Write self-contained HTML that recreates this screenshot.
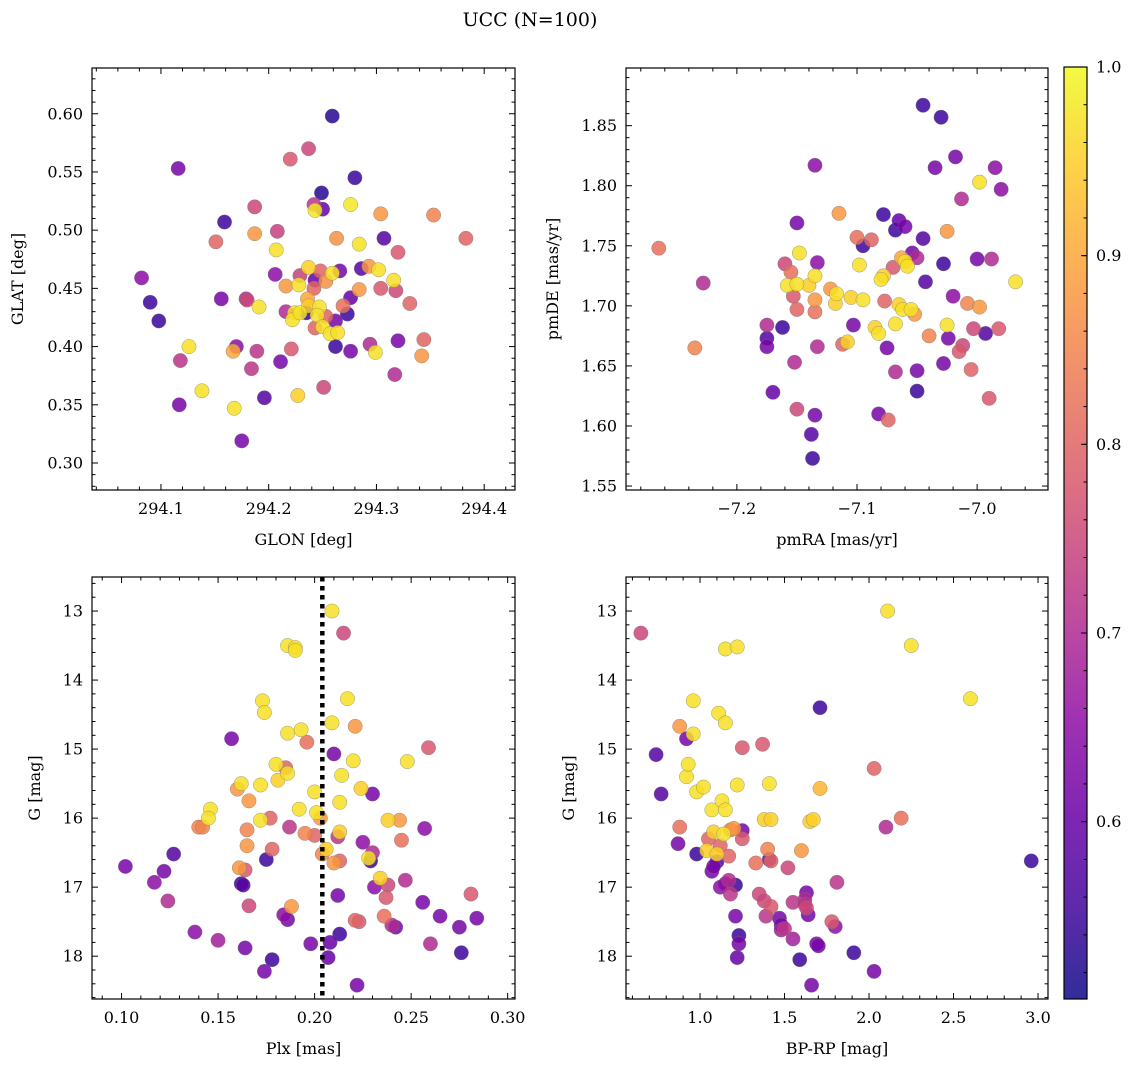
<!DOCTYPE html>
<html><head><meta charset="utf-8"><style>
body{margin:0;background:#fff;}
svg{display:block;font-family:"DejaVu Serif","Liberation Serif",serif;}
</style></head><body>
<svg id="fig" width="1136" height="1067" viewBox="0 0 1136 1067" xmlns="http://www.w3.org/2000/svg">
<text x="530" y="26" text-anchor="middle" font-size="19">UCC (N=100)</text>
</svg>
<script>
// ---- data (each panel: x values, y values, membership probability) ----
const p1x=[294.259,294.116,294.237,294.220,294.280,294.249,294.276,294.242,294.250,294.243,294.187,294.159,294.208,294.187,294.151,294.304,294.353,294.383,294.307,294.263,294.284,294.207,294.320,294.082,294.090,294.098,294.156,294.179,294.180,294.206,294.191,294.216,294.228,294.229,294.237,294.248,294.253,294.259,294.266,294.286,294.293,294.302,294.316,294.304,294.284,294.276,294.243,294.242,294.236,294.224,294.222,294.229,294.237,294.247,294.235,294.245,294.253,294.243,294.250,294.257,294.264,294.262,294.273,294.269,294.216,294.262,294.276,294.294,294.299,294.320,294.344,294.342,294.331,294.318,294.317,294.221,294.211,294.189,294.184,294.170,294.167,294.126,294.118,294.138,294.117,294.168,294.196,294.227,294.251,294.175];
const p1y=[0.598,0.553,0.570,0.561,0.545,0.532,0.522,0.522,0.518,0.517,0.520,0.507,0.499,0.497,0.490,0.514,0.513,0.493,0.493,0.493,0.488,0.483,0.481,0.459,0.438,0.422,0.441,0.441,0.440,0.462,0.434,0.452,0.453,0.461,0.468,0.465,0.456,0.463,0.465,0.467,0.469,0.466,0.457,0.450,0.449,0.442,0.457,0.450,0.441,0.429,0.423,0.429,0.435,0.434,0.429,0.427,0.426,0.416,0.417,0.411,0.412,0.422,0.428,0.435,0.430,0.400,0.396,0.402,0.395,0.405,0.406,0.392,0.437,0.448,0.376,0.398,0.387,0.396,0.381,0.400,0.396,0.400,0.388,0.362,0.350,0.347,0.356,0.358,0.365,0.319];
const p1c=[0.53,0.62,0.75,0.78,0.55,0.53,0.98,0.72,0.60,0.98,0.75,0.55,0.74,0.88,0.80,0.88,0.85,0.80,0.58,0.87,0.97,0.97,0.78,0.65,0.55,0.55,0.62,0.70,0.75,0.65,0.97,0.88,0.97,0.74,0.95,0.80,0.87,0.97,0.62,0.58,0.88,0.97,0.97,0.78,0.88,0.60,0.60,0.80,0.90,0.97,0.97,0.97,0.95,0.97,0.55,0.97,0.80,0.80,0.97,0.97,0.97,0.62,0.55,0.82,0.70,0.55,0.62,0.70,0.97,0.62,0.80,0.88,0.80,0.75,0.70,0.78,0.62,0.72,0.72,0.65,0.90,0.97,0.72,0.97,0.62,0.97,0.58,0.95,0.75,0.62];

const p2x=[-7.265,-7.228,-7.235,-7.175,-7.175,-7.175,-7.170,-7.162,-7.160,-7.158,-7.155,-7.150,-7.153,-7.150,-7.150,-7.148,-7.152,-7.150,-7.140,-7.135,-7.135,-7.133,-7.135,-7.138,-7.137,-7.135,-7.135,-7.133,-7.122,-7.118,-7.115,-7.117,-7.112,-7.108,-7.105,-7.103,-7.100,-7.098,-7.095,-7.095,-7.088,-7.082,-7.085,-7.082,-7.078,-7.080,-7.078,-7.075,-7.077,-7.074,-7.070,-7.068,-7.068,-7.068,-7.065,-7.065,-7.063,-7.062,-7.060,-7.060,-7.058,-7.055,-7.054,-7.052,-7.050,-7.050,-7.050,-7.045,-7.045,-7.043,-7.040,-7.035,-7.030,-7.028,-7.028,-7.025,-7.025,-7.024,-7.020,-7.018,-7.015,-7.012,-7.013,-7.008,-7.005,-7.003,-7.000,-6.998,-6.998,-6.993,-6.990,-6.988,-6.985,-6.982,-6.980,-6.968];
const p2y=[1.748,1.719,1.665,1.684,1.673,1.666,1.628,1.682,1.735,1.717,1.728,1.718,1.708,1.697,1.769,1.744,1.653,1.614,1.717,1.725,1.705,1.736,1.695,1.593,1.573,1.609,1.817,1.666,1.714,1.702,1.777,1.710,1.668,1.670,1.707,1.684,1.757,1.734,1.705,1.750,1.755,1.677,1.682,1.610,1.776,1.722,1.725,1.665,1.704,1.605,1.732,1.685,1.645,1.763,1.701,1.771,1.740,1.697,1.737,1.766,1.733,1.697,1.744,1.693,1.629,1.740,1.646,1.867,1.756,1.720,1.675,1.815,1.857,1.735,1.652,1.762,1.684,1.673,1.708,1.824,1.662,1.667,1.789,1.702,1.647,1.681,1.739,1.803,1.699,1.677,1.623,1.739,1.815,1.681,1.797,1.720];
const p2c=[0.82,0.70,0.85,0.70,0.58,0.62,0.60,0.55,0.75,0.97,0.82,0.97,0.78,0.80,0.62,0.97,0.70,0.75,0.95,0.97,0.88,0.65,0.82,0.58,0.55,0.62,0.65,0.70,0.88,0.95,0.88,0.97,0.80,0.95,0.95,0.62,0.82,0.97,0.97,0.55,0.80,0.97,0.95,0.62,0.55,0.97,0.95,0.62,0.80,0.80,0.78,0.97,0.70,0.55,0.95,0.60,0.90,0.97,0.97,0.62,0.97,0.97,0.62,0.88,0.55,0.70,0.62,0.55,0.58,0.58,0.85,0.62,0.55,0.55,0.62,0.88,0.97,0.62,0.65,0.62,0.78,0.75,0.70,0.85,0.80,0.75,0.62,0.97,0.88,0.58,0.78,0.70,0.65,0.78,0.65,0.97];

const p3x=[0.102,0.117,0.122,0.124,0.127,0.138,0.140,0.142,0.146,0.145,0.150,0.157,0.160,0.162,0.163,0.162,0.164,0.164,0.165,0.165,0.166,0.166,0.161,0.172,0.172,0.173,0.174,0.175,0.174,0.177,0.178,0.180,0.178,0.181,0.184,0.185,0.186,0.186,0.186,0.186,0.187,0.188,0.190,0.190,0.192,0.193,0.195,0.196,0.198,0.200,0.200,0.201,0.203,0.204,0.206,0.207,0.208,0.209,0.209,0.210,0.210,0.212,0.212,0.213,0.213,0.213,0.214,0.213,0.215,0.217,0.220,0.221,0.221,0.222,0.223,0.224,0.225,0.228,0.229,0.230,0.230,0.231,0.234,0.236,0.237,0.238,0.238,0.240,0.242,0.244,0.245,0.247,0.248,0.256,0.257,0.259,0.260,0.265,0.275,0.276,0.281,0.284];
const p3y=[16.70,16.93,16.77,17.20,16.52,17.65,16.13,16.13,15.87,16.00,17.77,14.85,15.58,15.50,16.97,16.95,16.75,17.88,16.40,16.17,15.75,17.27,16.72,15.52,16.03,14.30,14.47,16.60,18.22,16.00,16.45,15.22,18.05,15.45,17.40,15.27,17.47,13.50,14.77,15.35,16.13,17.28,13.53,13.57,15.87,14.72,16.22,14.90,17.82,15.62,16.25,15.92,16.00,16.52,16.45,18.02,17.80,13.00,14.62,15.07,16.65,16.27,17.12,16.20,16.62,17.68,15.38,15.77,13.32,14.27,15.17,17.48,14.67,18.42,17.50,15.57,16.35,16.58,16.62,16.50,15.65,17.00,16.87,17.42,17.15,16.97,16.03,17.55,17.58,16.03,16.32,16.90,15.18,17.22,16.15,14.98,17.82,17.42,17.58,17.95,17.10,17.45];
const p3c=[0.62,0.65,0.62,0.70,0.58,0.65,0.85,0.85,0.97,0.97,0.68,0.62,0.88,0.97,0.58,0.55,0.78,0.62,0.88,0.85,0.88,0.75,0.88,0.97,0.97,0.97,0.97,0.55,0.62,0.80,0.80,0.97,0.55,0.95,0.65,0.80,0.62,0.97,0.97,0.97,0.72,0.88,0.97,0.97,0.97,0.97,0.85,0.82,0.62,0.97,0.80,0.97,0.88,0.85,0.95,0.60,0.60,0.97,0.97,0.62,0.88,0.72,0.62,0.95,0.80,0.55,0.97,0.97,0.75,0.97,0.97,0.80,0.88,0.62,0.78,0.95,0.65,0.97,0.55,0.70,0.62,0.65,0.95,0.82,0.78,0.75,0.95,0.70,0.62,0.88,0.82,0.70,0.97,0.62,0.65,0.78,0.70,0.62,0.62,0.55,0.78,0.62];

const p4x=[0.65,0.74,0.77,0.87,0.88,0.88,0.92,0.92,0.93,0.96,0.96,0.98,0.98,1.02,1.04,1.05,1.07,1.07,1.08,1.08,1.10,1.10,1.11,1.12,1.12,1.13,1.14,1.15,1.15,1.15,1.15,1.17,1.17,1.18,1.18,1.20,1.21,1.21,1.22,1.22,1.22,1.23,1.23,1.25,1.25,1.25,1.33,1.35,1.37,1.38,1.38,1.39,1.40,1.41,1.41,1.42,1.42,1.42,1.47,1.48,1.48,1.50,1.52,1.55,1.55,1.59,1.60,1.62,1.62,1.63,1.63,1.64,1.65,1.66,1.67,1.69,1.70,1.71,1.71,1.78,1.80,1.81,1.91,2.03,2.03,2.10,2.11,2.19,2.25,2.60,2.96];
const p4y=[13.32,15.08,15.65,16.37,14.67,16.13,15.40,14.85,15.22,14.78,14.30,15.62,16.52,15.55,16.47,16.30,15.88,16.77,16.70,16.20,16.52,16.63,14.48,17.00,16.40,15.75,16.23,14.62,13.55,15.88,16.95,16.55,16.90,16.17,17.10,16.15,16.97,17.42,13.52,15.52,18.02,17.82,17.70,14.98,16.18,16.30,16.65,17.10,14.93,16.02,17.20,17.42,16.45,15.50,16.60,16.62,17.28,16.02,17.45,17.55,17.62,17.60,16.72,17.75,17.22,18.05,16.47,17.25,17.18,17.08,17.30,17.40,16.05,18.42,16.02,17.82,17.85,14.40,15.57,17.50,17.57,16.93,17.95,18.22,15.28,16.13,13.00,16.00,13.50,14.27,16.62];
const p4c=[0.75,0.58,0.58,0.62,0.88,0.82,0.97,0.62,0.97,0.97,0.97,0.97,0.55,0.97,0.95,0.80,0.97,0.62,0.62,0.95,0.95,0.58,0.97,0.65,0.80,0.97,0.97,0.97,0.97,0.97,0.62,0.80,0.70,0.85,0.72,0.88,0.55,0.62,0.97,0.97,0.60,0.62,0.55,0.78,0.62,0.78,0.82,0.75,0.78,0.95,0.75,0.72,0.85,0.97,0.60,0.80,0.78,0.95,0.62,0.62,0.68,0.72,0.75,0.68,0.72,0.55,0.88,0.72,0.70,0.62,0.75,0.62,0.95,0.62,0.95,0.62,0.62,0.55,0.92,0.78,0.65,0.72,0.55,0.62,0.80,0.70,0.97,0.82,0.97,0.97,0.55];

const cbTicks=[0.6,0.7,0.8,0.9,1.0];
const plxLine=0.204;

// ---- rendering ----
const NS="http://www.w3.org/2000/svg";
const svg=document.getElementById('fig');
const VMIN=0.506,VMAX=1.0;
const stops=[[0,[13,8,135]],[0.1,[65,4,157]],[0.2,[106,0,168]],[0.3,[143,13,164]],[0.4,[177,42,144]],[0.5,[204,71,120]],[0.6,[225,100,98]],[0.7,[242,132,75]],[0.8,[252,166,54]],[0.9,[252,206,37]],[1,[240,249,33]]];
function plasma(v){let t=Math.max(0,Math.min(1,(v-VMIN)/(VMAX-VMIN)));
 for(let i=1;i<stops.length;i++){if(t<=stops[i][0]){const a=stops[i-1],b=stops[i];const f=(t-a[0])/(b[0]-a[0]);
 const c=a[1].map((x,k)=>Math.round(x+(b[1][k]-x)*f));return `rgb(${c[0]},${c[1]},${c[2]})`;}}return 'rgb(240,249,33)';}
function el(tag,attrs,parent){const e=document.createElementNS(NS,tag);for(const k in attrs)e.setAttribute(k,attrs[k]);(parent||svg).appendChild(e);return e;}
function fmt(v,d){return v.toFixed(d).replace('-','\u2212');}

function panel(cfg){
 const g=el('g',{});
 
 
 const {L,R,T,B}=cfg;
 const sx=v=>L+(v-cfg.xmin)/(cfg.xmax-cfg.xmin)*(R-L);
 const sy=cfg.inv? v=>T+(v-cfg.ymin)/(cfg.ymax-cfg.ymin)*(B-T) : v=>B-(v-cfg.ymin)/(cfg.ymax-cfg.ymin)*(B-T);
 const clip='clip-'+cfg.name;
 const cp=el('clipPath',{id:clip},g);el('rect',{x:L,y:T,width:R-L,height:B-T},cp);
 const pts=el('g',{'clip-path':`url(#${clip})`},g);
 
 
 const order=cfg.c.map((c,i)=>i).sort((a,b)=>cfg.c[a]-cfg.c[b]);
 order.forEach(i=>{const c=el('circle',{cx:sx(cfg.x[i]),cy:sy(cfg.y[i]),r:7.2,fill:plasma(cfg.c[i]),'fill-opacity':0.85,stroke:'#777','stroke-width':0.5,'stroke-opacity':0.7},pts);
  
  });
 if(cfg.vline!==undefined){const l=el('line',{x1:sx(cfg.vline),x2:sx(cfg.vline),y1:T,y2:B,stroke:'#000','stroke-width':4.5,'stroke-dasharray':'4.5,4.5'},g);
  
  }
 const fr=el('rect',{x:L,y:T,width:R-L,height:B-T,fill:'none',stroke:'#000','stroke-width':1.2},g);
 
 
 const ax=el('g',{stroke:'#000','stroke-width':1},g);
 const eps=1e-9;
 for(let v=Math.ceil(cfg.xmin/cfg.xmi-eps)*cfg.xmi;v<=cfg.xmax+eps;v+=cfg.xmi){const X=sx(v);
  const maj=Math.abs(v/cfg.xma-Math.round(v/cfg.xma))<1e-4;const len=maj?6:3.5;
  el('line',{x1:X,x2:X,y1:B,y2:B-len},ax);el('line',{x1:X,x2:X,y1:T,y2:T+len},ax);
  if(maj){const t=el('text',{x:X,y:B+24,'text-anchor':'middle','font-size':16,stroke:'none'},g);t.textContent=fmt(Math.round(v/cfg.xma)*cfg.xma,cfg.xd);
   
   }}
 for(let v=Math.ceil(cfg.ymin/cfg.ymi-eps)*cfg.ymi;v<=cfg.ymax+eps;v+=cfg.ymi){const Y=sy(v);
  const maj=Math.abs(v/cfg.yma-Math.round(v/cfg.yma))<1e-4;const len=maj?6:3.5;
  el('line',{x1:L,x2:L+len,y1:Y,y2:Y},ax);el('line',{x1:R,x2:R-len,y1:Y,y2:Y},ax);
  if(maj){const t=el('text',{x:L-9,y:Y+5.5,'text-anchor':'end','font-size':16,stroke:'none'},g);t.textContent=fmt(Math.round(v/cfg.yma)*cfg.yma,cfg.yd);
   
   }}
 const xl=el('text',{x:(L+R)/2,y:B+55,'text-anchor':'middle','font-size':16},g);xl.textContent=cfg.xlabel;
 
 
 const yx=cfg.ylx,yy=(T+B)/2;
 const yl=el('text',{x:yx,y:yy,'text-anchor':'middle','font-size':16,transform:`rotate(-90 ${yx} ${yy})`},g);yl.textContent=cfg.ylabel;
 
 
}

panel({name:'glon-glat-panel',L:92,R:515,T:68,B:490,xmin:294.036,xmax:294.4286,ymin:0.2768,ymax:0.6393,xma:0.1,xmi:0.02,yma:0.05,ymi:0.01,xd:1,yd:2,x:p1x,y:p1y,c:p1c,xlabel:'GLON [deg]',ylabel:'GLAT [deg]',ylx:23});
panel({name:'pmra-pmde-panel',L:626,R:1048,T:68,B:490,xmin:-7.2923,xmax:-6.941,ymin:1.5467,ymax:1.898,xma:0.1,xmi:0.02,yma:0.05,ymi:0.01,xd:1,yd:2,x:p2x,y:p2y,c:p2c,xlabel:'pmRA [mas/yr]',ylabel:'pmDE [mas/yr]',ylx:558});
panel({name:'plx-g-panel',L:92,R:515,T:577,B:999,xmin:0.0847,xmax:0.3038,ymin:12.507,ymax:18.62,inv:true,xma:0.05,xmi:0.01,yma:1,ymi:0.2,xd:2,yd:0,x:p3x,y:p3y,c:p3c,xlabel:'Plx [mas]',ylabel:'G [mag]',ylx:40,vline:plxLine});
panel({name:'bprp-g-panel',L:626,R:1048,T:577,B:999,xmin:0.562,xmax:3.059,ymin:12.507,ymax:18.62,inv:true,xma:0.5,xmi:0.1,yma:1,ymi:0.2,xd:1,yd:0,x:p4x,y:p4y,c:p4c,xlabel:'BP-RP [mag]',ylabel:'G [mag]',ylx:574});

// colorbar
(function(){
 const L=1064,R=1087,T=67,B=999;
 const g=el('g',{});
 
 
 const defs=el('defs',{},g);
 const lg=el('linearGradient',{id:'cbgrad',x1:0,y1:1,x2:0,y2:0},defs);
 for(let i=0;i<=20;i++){const v=VMIN+(VMAX-VMIN)*i/20;el('stop',{offset:i/20,'stop-color':plasma(v),'stop-opacity':0.85},lg);}
 el('rect',{x:L,y:T,width:R-L,height:B-T,fill:'url(#cbgrad)'},g);
 el('rect',{x:L,y:T,width:R-L,height:B-T,fill:'none',stroke:'#000','stroke-width':1.2},g);
 const sy=v=>B-(v-VMIN)/(VMAX-VMIN)*(B-T);
 for(let v=0.52;v<=1.0001;v+=0.02){const Y=sy(v);el('line',{x1:R,x2:R-3.5,y1:Y,y2:Y,stroke:'#000'},g);}
 cbTicks.forEach(v=>{const Y=sy(v);el('line',{x1:R,x2:R-6,y1:Y,y2:Y,stroke:'#000'},g);
  const t=el('text',{x:R+9,y:Y+5.5,'font-size':16},g);t.textContent=v.toFixed(1);
  
  });
})();
</script>
</body></html>
